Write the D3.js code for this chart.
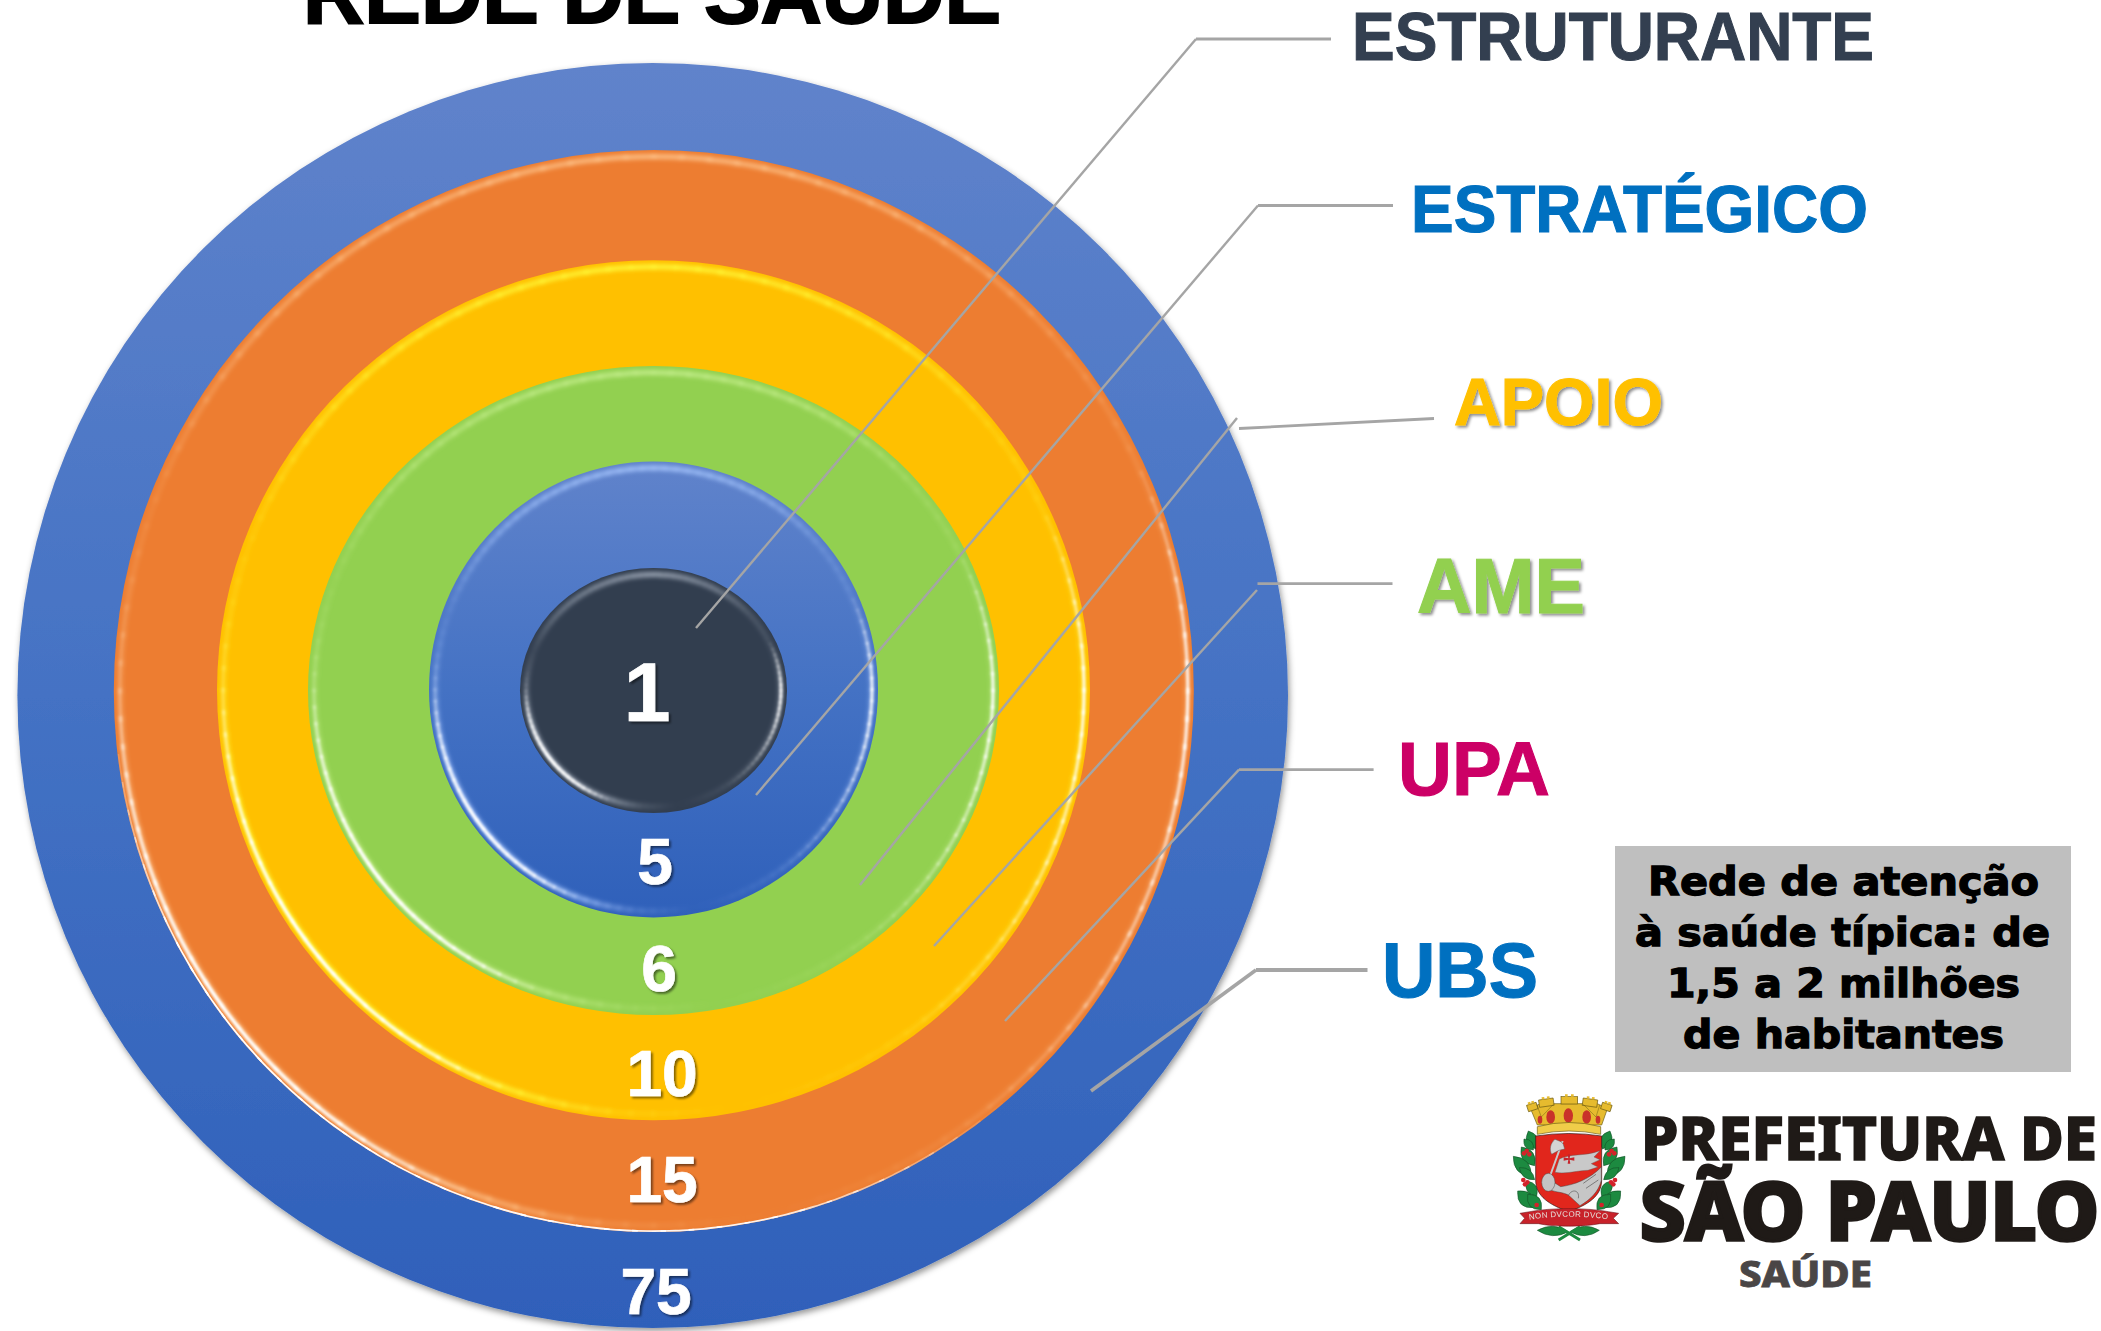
<!DOCTYPE html>
<html lang="pt-BR">
<head>
<meta charset="utf-8">
<title>Rede de Saúde</title>
<script src="https://cdn.jsdelivr.net/npm/d3@7"></script>
<style>
html,body{margin:0;padding:0;background:#fff;overflow:hidden}
svg{display:block}
text{font-family:"Liberation Sans",Arial,sans-serif;font-weight:700}
</style>
</head>
<body>
<script>
// ---------- data ----------
const categories = ["ESTRUTURANTE","ESTRATÉGICO","APOIO","AME","UPA","UBS"];
const unitCounts = [1,5,6,10,15,75];
const chartTitle = "REDE DE SAÚDE";
const noteLines = ["Rede de atenção","à saúde típica: de","1,5 a 2 milhões","de habitantes"];
const ringColors = ["#323e4f","url(#blueFill)","#92d050","#ffc000","#ed7d31","url(#blueFill)"];
const labelColors = ["#333f50","#0070c0","#ffc000","#92d050","#cc0066","#0070c0"];
const ringTints = ["#a4aebd","#a9c8ff","#c8f090","#ffff40","#ffc890",null];

// ---------- layout (not data) ----------
const W = 2101, H = 1331;
const rxRange = [133.5,224.5,345.5,436.5,540,635.3];
const ryRange = [122.5,228,324.5,430,541,632.5];
const cyRange = [690.5,689.5,690.5,690.3,691,695.5];
const cxRange = [653.5,653.5,653.5,653.5,653.8,652.7];
const countXRange = [647,655,659,662,662,656];
const countBaselineRange = [720.5,883.5,990.5,1095.5,1201.5,1313.5];
const countSizeRange = [84,64,64,64,64,64];
const labelBoxes = [ // left, right, baseline, font-size
  [1352,1874,60,68],[1411,1868,232,67],[1454,1663,425,67],
  [1417,1585,613,78],[1398,1550,795,76],[1382,1538,996.5,77]];
const leaderRuns = [ // thin diagonal leg, thick horizontal leg
  {diag:[[1196,39],[696,628]],            flat:[[1196,39],[1331,39]],     w:2.8},
  {diag:[[1258,205.5],[756,795]],         flat:[[1258,205.5],[1393,205.5]],w:2.8},
  {diag:[[1237,418],[860,885]],           flat:[[1239,428.5],[1434,418.5]],w:2.8},
  {diag:[[1257,590],[934,946]],           flat:[[1257.5,583.6],[1392.5,583.6]],w:2.8},
  {diag:[[1239,769.6],[1005,1021]],       flat:[[1239,769.6],[1373.6,769.6]],w:2.8},
  {diag:[[1256,970],[1091,1091]],         flat:[[1256,970],[1367.5,970]],  w:4}];

// ---------- scales ----------
const ord = r => d3.scaleOrdinal().domain(categories).range(r);
const rx = ord(rxRange), ry = ord(ryRange), cx = ord(cxRange), cy = ord(cyRange);
const fill = ord(ringColors), tint = ord(ringTints), labelColor = ord(labelColors);
const countX = ord(countXRange), countY = ord(countBaselineRange), countSize = ord(countSizeRange);
const labelBox = ord(labelBoxes), leader = ord(leaderRuns);
const countOf = ord(unitCounts);

const svg = d3.select("body").append("svg").attr("width",W).attr("height",H).attr("viewBox",`0 0 ${W} ${H}`);
svg.append("rect").attr("width",W).attr("height",H).attr("fill","#fff");
const defs = svg.append("defs");

const grad = defs.append("linearGradient").attr("id","blueFill").attr("x1",0).attr("y1",0).attr("x2",0).attr("y2",1);
[[0,"#6083cb"],[.5,"#4472c4"],[1,"#2f60ba"]].forEach(s=>grad.append("stop").attr("offset",s[0]).attr("stop-color",s[1]));

function blur(id,s){defs.append("filter").attr("id",id).attr("x","-10%").attr("y","-10%").attr("width","120%").attr("height","120%")
  .append("feGaussianBlur").attr("stdDeviation",s);}
blur("soft",1.1); blur("softer",1.9); blur("logoBlur",.35);
function shadow(id,dx,dy,b,o){const f=defs.append("filter").attr("id",id).attr("x","-15%").attr("y","-15%").attr("width","130%").attr("height","130%");
  f.append("feDropShadow").attr("dx",dx).attr("dy",dy).attr("stdDeviation",b).attr("flood-color","#000").attr("flood-opacity",o);}
shadow("discShadow",1.5,3,3,.42);
shadow("numShadow",2,2,1.1,.5);
shadow("labelShadow",2,2,1.6,.45);

// ---------- title ----------
svg.append("text").attr("x",303).attr("y",23).attr("font-size",86).attr("fill","#000")
  .attr("textLength",698).attr("lengthAdjust","spacingAndGlyphs")
  .attr("stroke","#000").attr("stroke-width",2).text(chartTitle);

// ---------- discs, outermost first ----------
const ordered = categories.slice().reverse();
const tintKeys  = [[0,.45],[30,.3],[60,.1],[80,0],[95,.2],[110,.7],[135,1],[160,.9],[180,.35],[200,.1],[225,.45],[270,.85],[300,.5],[320,.2],[340,.15],[360,.45]];
const whiteKeys = [[0,.85],[20,.45],[40,.12],[55,0],[110,0],[125,.8],[145,1],[165,.65],[180,.12],[190,0],[335,0],[350,.45],[360,.85]];
const rimKeys   = [[0,0],[50,0],[78,.9],[150,1],[175,0],[360,0]];
const keyScale = k => d3.scaleLinear().domain(k.map(d=>d[0])).range(k.map(d=>d[1]));
const tintOp = keyScale(tintKeys), whiteOp = keyScale(whiteKeys), rimOp = keyScale(rimKeys);
const steps = d3.range(0,360,3);

ordered.forEach((c,i)=>{
  const g = svg.append("g").attr("class","ring");
  g.append("ellipse").attr("cx",cx(c)).attr("cy",cy(c)).attr("rx",rx(c)).attr("ry",ry(c)).attr("fill",fill(c))
    .attr("filter", c==="UBS" ? "url(#discShadow)" : null);
  if(!tint(c)) return;
  const id = "clip"+categories.indexOf(c);
  defs.append("clipPath").attr("id",id).append("ellipse").attr("cx",cx(c)).attr("cy",cy(c)).attr("rx",rx(c)).attr("ry",ry(c));
  const clip = g.append("g").attr("clip-path",`url(#${id})`);
  const arc = (a,inset)=>{
    const p = t=>[cx(c)+(rx(c)-inset)*Math.cos(t*Math.PI/180), cy(c)+(ry(c)-inset)*Math.sin(t*Math.PI/180)];
    return d3.line().curve(d3.curveCatmullRom)([p(a-.3),p(a+1.7),p(a+3.3)]);
  };
  const tg = clip.append("g").attr("filter","url(#softer)").attr("fill","none");
  steps.forEach(a=>tg.append("path").attr("d",arc(a,6.5)).attr("stroke",tint(c)).attr("stroke-width",5).attr("stroke-opacity",tintOp(a+1.5)));
  const wg = clip.append("g").attr("filter","url(#soft)").attr("fill","none");
  steps.forEach(a=>{const o=whiteOp(a+1.5); if(o>0) wg.append("path").attr("d",arc(a,6)).attr("stroke","#fff").attr("stroke-width",3.4).attr("stroke-opacity",o);});
  if(c==="UPA"){
    const rim = clip.append("g").attr("fill","none");
    d3.range(50,175,3).forEach(a=>rim.append("path").attr("d",arc(a,.6)).attr("stroke","#fff").attr("stroke-width",2.4).attr("stroke-opacity",rimOp(a+1.5)));
  }
});

// ---------- counts ----------
svg.append("g").selectAll("text").data(categories).join("text")
  .attr("x",countX).attr("y",countY).attr("text-anchor","middle")
  .attr("font-size",countSize).attr("fill","#fff").attr("stroke","#fff").attr("stroke-width",.7)
  .attr("filter","url(#numShadow)").text(countOf);

// ---------- leaders ----------
const lg = svg.append("g").attr("fill","none").attr("stroke","#a5a5a5");
const seg = d3.line();
categories.forEach(c=>{
  const l = leader(c);
  lg.append("path").attr("d",seg(l.diag)).attr("stroke-width",c==="UBS"?3.6:2.4);
  lg.append("path").attr("d",seg(l.flat)).attr("stroke-width",l.w);
});

// ---------- labels ----------
svg.append("g").selectAll("text").data(categories).join("text")
  .attr("x",c=>labelBox(c)[0]).attr("y",c=>labelBox(c)[2]).attr("font-size",c=>labelBox(c)[3])
  .attr("textLength",c=>labelBox(c)[1]-labelBox(c)[0]).attr("lengthAdjust","spacingAndGlyphs")
  .attr("fill",labelColor).attr("stroke",labelColor).attr("stroke-width",1.1)
  .attr("filter",c=>(c==="APOIO"||c==="AME")?"url(#labelShadow)":null)
  .text(c=>c);

// ---------- note box ----------
svg.append("rect").attr("x",1615).attr("y",846).attr("width",456).attr("height",226).attr("fill","#bfbfbf");
const noteX = [1648,1635,1667,1683], noteLen = [391,415,353,321], noteY = [895,946,997,1048];
svg.append("g").selectAll("text").data(noteLines).join("text")
  .attr("x",(d,i)=>noteX[i]).attr("y",(d,i)=>noteY[i])
  .attr("textLength",(d,i)=>noteLen[i]).attr("lengthAdjust","spacingAndGlyphs")
  .style("font-family",'"DejaVu Sans",sans-serif').style("font-weight",700)
  .attr("font-size",39).attr("fill","#000").attr("stroke","#000").attr("stroke-width",1.3).text(d=>d);

// ---------- logo wordmark ----------
const logo = svg.append("g");
[["PREFEITURA DE",1641,2097,1160,60,"#1f1a17",1.6],
 ["SÃO PAULO",1640,2099,1240,81,"#1f1a17",3.6],
 ["SAÚDE",1739,1872,1287,35,"#4a4646",.8]].forEach(t=>{
  logo.append("text").attr("x",t[1]).attr("y",t[3]).attr("font-size",t[4])
    .attr("textLength",t[2]-t[1]).attr("lengthAdjust","spacingAndGlyphs")
    .style("font-family",'"Noto Sans","Open Sans",sans-serif').style("font-weight",800)
    .attr("fill",t[5]).attr("stroke",t[5]).attr("stroke-width",t[6]).text(t[0]);
});

// ---------- coat of arms (drawn in a 420×495 local box) ----------
const crest = svg.append("g").attr("transform","translate(1500,1085) scale(.3333)").attr("filter","url(#logoBlur)");
const leaf = (x1,y1,x2,y2,w)=>{
  const mx=(x1+x2)/2,my=(y1+y2)/2,dx=x2-x1,dy=y2-y1,l=Math.hypot(dx,dy),nx=-dy/l*w,ny=dx/l*w;
  return `M${x1},${y1}Q${mx+nx},${my+ny} ${x2},${y2}Q${mx-nx},${my-ny} ${x1},${y1}Z`;};
const leafList = [[108,192,85,138,34],[100,195,72,162,24],[104,242,64,186,36],[94,274,40,214,38],[104,284,58,248,26],
  [110,334,80,288,30],[104,368,53,318,42],[124,374,83,328,36]];
const mirror = d=>[415-d[0],d[1],415-d[2],d[3],d[4]];
const leaves = crest.append("g").attr("fill","#1f8a40").attr("stroke","#0d4a22").attr("stroke-width",1.6);
leafList.concat(leafList.map(mirror),[[205,440,112,436,28],[210,440,298,436,28]]).forEach(d=>leaves.append("path").attr("d",leaf(...d)));
crest.append("path").attr("d","M176,465L240,425M240,465L176,425").attr("stroke","#1f8a40").attr("stroke-width",9).attr("fill","none");
const berries=[[80,198],[72,205],[88,208],[70,285],[82,292],[75,298]];
const bg = crest.append("g").attr("fill","#d3232a");
berries.concat(berries.map(b=>[415-b[0],b[1]]),[[110,360],[305,360]]).forEach(b=>bg.append("circle").attr("cx",b[0]).attr("cy",b[1]).attr("r",7));

// crown
const gold="#e6bb2e", goldEdge="#6b5a12";
crest.append("path").attr("d","M92,72L120,56L292,56L322,72L305,120L112,120Z").attr("fill",gold).attr("stroke",goldEdge).attr("stroke-width",2);
[[82,56,30,20,-18],[117,42,44,22,-8],[183,35,50,22,0],[248,42,44,22,8],[304,56,30,20,18]].forEach(t=>{
  crest.append("rect").attr("x",t[0]).attr("y",t[1]).attr("width",t[2]).attr("height",t[3]).attr("fill",gold).attr("stroke",goldEdge).attr("stroke-width",2)
    .attr("transform",`rotate(${t[4]} ${t[0]+t[2]/2} ${t[1]+t[3]/2})`);
  crest.append("path").attr("d",`M${t[0]+t[2]*.32},${t[1]}v-7M${t[0]+t[2]*.68},${t[1]}v-7`).attr("stroke",gold).attr("stroke-width",8)
    .attr("transform",`rotate(${t[4]} ${t[0]+t[2]/2} ${t[1]+t[3]/2})`);
});
crest.append("path").attr("d","M110,58L124,96L160,58M300,58L288,96L250,58").attr("fill","none").attr("stroke",goldEdge).attr("stroke-width",1.4);
[[152,96,13,20],[205,92,14,22],[260,96,13,20],[120,104,7,12],[294,104,7,12]].forEach(w=>
  crest.append("ellipse").attr("cx",w[0]).attr("cy",w[1]).attr("rx",w[2]).attr("ry",w[3]).attr("fill","#c9302c"));
crest.append("path").attr("d","M112,125Q207,100 302,125L302,148Q207,128 112,148Z").attr("fill","#f0cd4a").attr("stroke",goldEdge).attr("stroke-width",2);

// shield
crest.append("path").attr("d","M107,153Q207,138 305,153L305,285C305,335 262,360 206,380C150,360 107,335 107,285Z")
  .attr("fill","#e1261c").attr("stroke","#2a1a14").attr("stroke-width",2);
// flag
crest.append("path").attr("d","M178,222C212,204 250,216 300,197L282,216L300,224L274,236L294,246L264,256C235,256 200,268 165,262Z")
  .attr("fill","#c9c9c9").attr("stroke","#555").attr("stroke-width",1.2);
crest.append("path").attr("d","M203,208h8l-2,12 14,-3v10l-14,-3 2,12h-8l2,-12 -14,3v-10l14,3Z").attr("fill","#c8242a");
// axe
crest.append("path").attr("d","M188,168L136,312").attr("stroke","#c8c8c8").attr("stroke-width",6);
crest.append("path").attr("d","M165,163C150,175 148,195 155,208L177,196L194,192L190,178L183,170Z").attr("fill","#d4d4d4").attr("stroke","#555").attr("stroke-width",1.4);
// arm
crest.append("path").attr("d","M155,288L182,305C222,300 270,282 304,246L304,286C296,320 270,345 240,362L205,330C190,322 170,322 150,315Z")
  .attr("fill","#c6c6c6").attr("stroke","#444").attr("stroke-width",1.4);
crest.append("ellipse").attr("cx",145).attr("cy",292).attr("rx",20).attr("ry",27).attr("fill","#c4c4c4").attr("stroke","#444").attr("stroke-width",1.4);
crest.append("path").attr("d","M250,295L288,268M258,310L295,285M205,332C215,310 240,315 235,340").attr("stroke","#555").attr("stroke-width",2).attr("fill","none");
// ribbon
crest.append("path").attr("d","M60,385L90,380C150,368 262,368 325,380L356,385L340,400L356,416L300,416C250,426 160,426 115,416L60,416L74,400Z")
  .attr("fill","#c8232c").attr("stroke","#5f1015").attr("stroke-width",1.6);
defs.append("path").attr("id","ribbonPath").attr("d","M88,404Q207,386 330,404");
crest.append("text").attr("font-size",24).attr("fill","#e6dfd8").style("font-weight",400).style("letter-spacing","1px")
  .append("textPath").attr("href","#ribbonPath").text("NON DVCOR DVCO");
</script>
</body>
</html>
